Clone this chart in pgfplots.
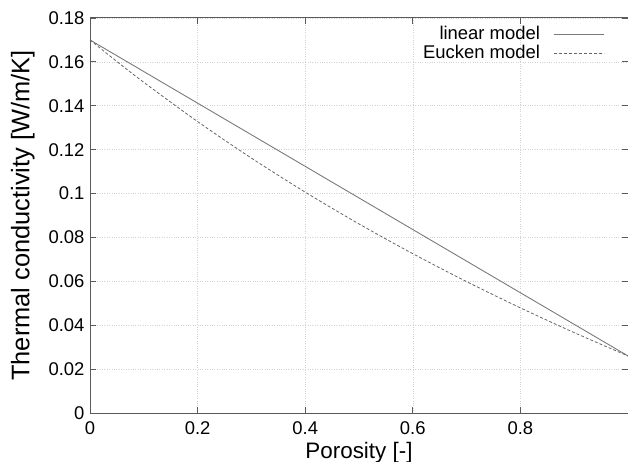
\documentclass[border=0pt]{standalone}
\usepackage{pgfplots}
\pgfplotsset{compat=1.18}
\usepackage{fontspec}
\setmainfont{Liberation Sans}
\definecolor{axgray}{HTML}{5A5A5A}
\definecolor{lingray}{HTML}{7A7A7A}
\definecolor{eugray}{HTML}{666666}
\begin{document}
\begin{tikzpicture}
\begin{axis}[
  scale only axis,
  width=538bp, height=395bp,
  xmin=0, xmax=1, ymin=0, ymax=0.18,
  xtick={0,0.2,0.4,0.6,0.8,1},
  xticklabels={0,0.2,0.4,0.6,0.8,},
  ytick={0,0.02,0.04,0.06,0.08,0.1,0.12,0.14,0.16,0.18},
  yticklabels={0,0.02,0.04,0.06,0.08,0.1,0.12,0.14,0.16,0.18},
  tick align=inside,
  major tick length=6bp,
  axis line style={axgray, line width=1pt},
  every tick/.style={axgray, line width=0.8pt},
  grid=major,
  major grid style={gray!35, dotted, line width=0.6pt},
  tick label style={font=\fontsize{18.5}{22}\selectfont},
  xlabel={Porosity [-]},
  ylabel={Thermal conductivity [W/m/K]},
  xlabel style={font=\fontsize{22.5}{26}\selectfont, at={(axis description cs:0.5,0)}, anchor=base, yshift=-45bp},
  ylabel style={font=\fontsize{25.5}{29}\selectfont, at={(axis description cs:-0.125,0.5)}, anchor=center},
  xticklabel style={yshift=-5bp},
  yticklabel style={xshift=-2bp},
  legend style={at={(rel axis cs:1,1)}, anchor=north east, xshift=-20bp, yshift=-5bp,
    draw=none, fill=none, font=\fontsize{18.5}{19}\selectfont,
    row sep=0bp, nodes={text height=13bp, text depth=4bp, inner ysep=1bp}},
  legend cell align=right,
  legend plot pos=right,
  legend image code/.code={\path (0bp,0bp); \draw[#1] (12bp,0bp) -- (62bp,0bp);},
]
\addplot[lingray, line width=0.9pt] coordinates {(0,0.17) (1,0.026)};
\addlegendentry{linear model}
\addplot[eugray, dashed, dash pattern=on 3bp off 2bp, line width=0.8pt, smooth] coordinates {
(0,0.17) (0.05,0.16016) (0.1,0.15069) (0.2,0.13280) (0.3,0.11616) (0.4,0.10065)
(0.5,0.08616) (0.6,0.07260) (0.7,0.05987) (0.8,0.04791) (0.9,0.03663) (1,0.02600)};
\addlegendentry{Eucken model}
\end{axis}
\pgfresetboundingbox
\useasboundingbox (-90bp,-49bp) rectangle (538bp,413bp);
\end{tikzpicture}
\end{document}
